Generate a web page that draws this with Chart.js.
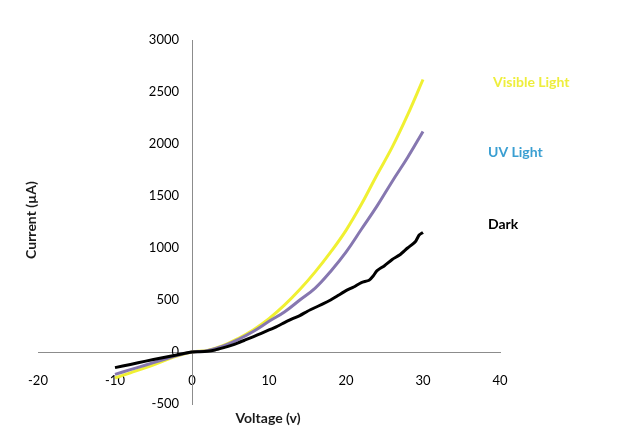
<!DOCTYPE html>
<html>
<head>
<meta charset="utf-8">
<script src="https://cdn.jsdelivr.net/npm/chart.js@4.4.1/dist/chart.umd.min.js"></script>
<style>
  html, body { margin: 0; padding: 0; background: #ffffff; }
  #wrap { width: 637px; height: 428px; position: relative; }
</style>
</head>
<body>
<div id="wrap"><canvas id="c" width="637" height="428"></canvas></div>
<script>
// I–V sweep data (voltage in V, current in µA)
const lightVoltage = [-10, -8, -6, -4, -2, 0, 2, 4, 6, 8, 10, 12, 14, 16, 18, 20, 22, 24, 26, 28, 30];
const visibleCurrent = [-250, -200, -150, -95, -40, 0, 15, 60, 130, 215, 320, 450, 600, 770, 960, 1170, 1420, 1700, 1970, 2280, 2620];
const uvCurrent = [-215, -170, -125, -80, -35, 0, 12, 55, 120, 200, 295, 385, 500, 615, 775, 960, 1180, 1400, 1640, 1870, 2120];

const darkVoltage = [-10, -8, -6, -4, -2, 0, 1, 2, 3, 4, 5, 6, 7, 8, 9, 10, 11, 12, 13, 14, 15, 16, 17, 18, 19, 20, 21, 22, 23, 23.5, 24, 25, 26, 27, 28, 29, 29.5, 30];
const darkCurrent = [-150, -120, -88, -58, -28, 0, 3, 8, 20, 40, 62, 88, 118, 148, 180, 212, 245, 282, 318, 350, 392, 428, 462, 500, 545, 590, 625, 668, 690, 728, 780, 830, 890, 935, 1000, 1060, 1125, 1150];

const seriesNames = ['Visible Light', 'UV Light', 'Dark'];
const xTicks = [-20, -10, 0, 10, 20, 30, 40];
const yTicks = [-500, 0, 500, 1000, 1500, 2000, 2500, 3000];
const xTitle = 'Voltage (v)';
const yTitle = 'Current (µA)';

const FONT = 'Lato, "Open Sans", "DejaVu Sans", sans-serif';
// a crossing y axis ignores ticks.padding, so the gap is kept with trailing en spaces
const Y_GAP = '\u2002\u2002';

function pairs(xs, ys) { return xs.map((x, i) => ({ x: x, y: ys[i] })); }

// Series names written beside the curve ends, plus axis titles
const annotations = {
  id: 'annotations',
  afterDraw(chart) {
    const ctx = chart.ctx;
    ctx.save();
    ctx.textBaseline = 'middle';
    ctx.textAlign = 'left';
    ctx.font = 'bold 14px ' + FONT;
    ctx.fillStyle = '#eeee3c';
    ctx.fillText(seriesNames[0], 493, 82);
    ctx.fillStyle = '#3a9fd2';
    ctx.fillText(seriesNames[1], 488, 152);
    ctx.fillStyle = '#000000';
    ctx.fillText(seriesNames[2], 488, 224);

    // horizontal title
    ctx.font = 'bold 14px ' + FONT;
    ctx.textAlign = 'center';
    ctx.textBaseline = 'top';
    ctx.fillStyle = '#1a1a1a';
    ctx.fillText(xTitle, 268, 411);

    // vertical title
    ctx.translate(31, 220);
    ctx.rotate(-Math.PI / 2);
    ctx.textBaseline = 'middle';
    ctx.font = 'bold 14px ' + FONT;
    ctx.fillText(yTitle, 0, 0);
    ctx.restore();
  }
};

new Chart(document.getElementById('c'), {
  type: 'scatter',
  data: {
    datasets: [
      {
        label: seriesNames[0],
        data: pairs(lightVoltage, visibleCurrent),
        showLine: true,
        borderColor: '#f0f032',
        borderWidth: 3,
        pointRadius: 0,
        tension: 0.4,
        order: 3
      },
      {
        label: seriesNames[1],
        data: pairs(lightVoltage, uvCurrent),
        showLine: true,
        borderColor: '#8677b0',
        borderWidth: 3,
        pointRadius: 0,
        tension: 0.4,
        order: 2
      },
      {
        label: seriesNames[2],
        data: pairs(darkVoltage, darkCurrent),
        showLine: true,
        borderColor: '#000000',
        borderWidth: 3,
        pointRadius: 0,
        tension: 0.2,
        order: 1
      }
    ]
  },
  options: {
    responsive: false,
    animation: false,
    layout: { padding: { left: 38, right: 137, top: 40, bottom: 24 } },
    plugins: {
      legend: { display: false },
      tooltip: { enabled: false }
    },
    scales: {
      x: {
        type: 'linear',
        min: -20,
        max: 40,
        position: { y: 0 },
        grid: { display: false },
        border: { display: true, color: '#8c8c8c', width: 1 },
        afterBuildTicks(scale) { scale.ticks = xTicks.map(v => ({ value: v })); },
        ticks: {
          padding: 13,
          maxRotation: 0,
          color: '#000000',
          font: { family: FONT, size: 13 },
          callback: v => String(v)
        }
      },
      y: {
        type: 'linear',
        min: -500,
        max: 3000,
        position: { x: 0 },
        grid: { display: false },
        border: { display: true, color: '#8c8c8c', width: 1 },
        afterBuildTicks(scale) { scale.ticks = yTicks.map(v => ({ value: v })); },
        ticks: {
          color: '#000000',
          font: { family: FONT, size: 13 },
          callback: v => String(v) + Y_GAP
        }
      }
    }
  },
  plugins: [annotations]
});
</script>
</body>
</html>
